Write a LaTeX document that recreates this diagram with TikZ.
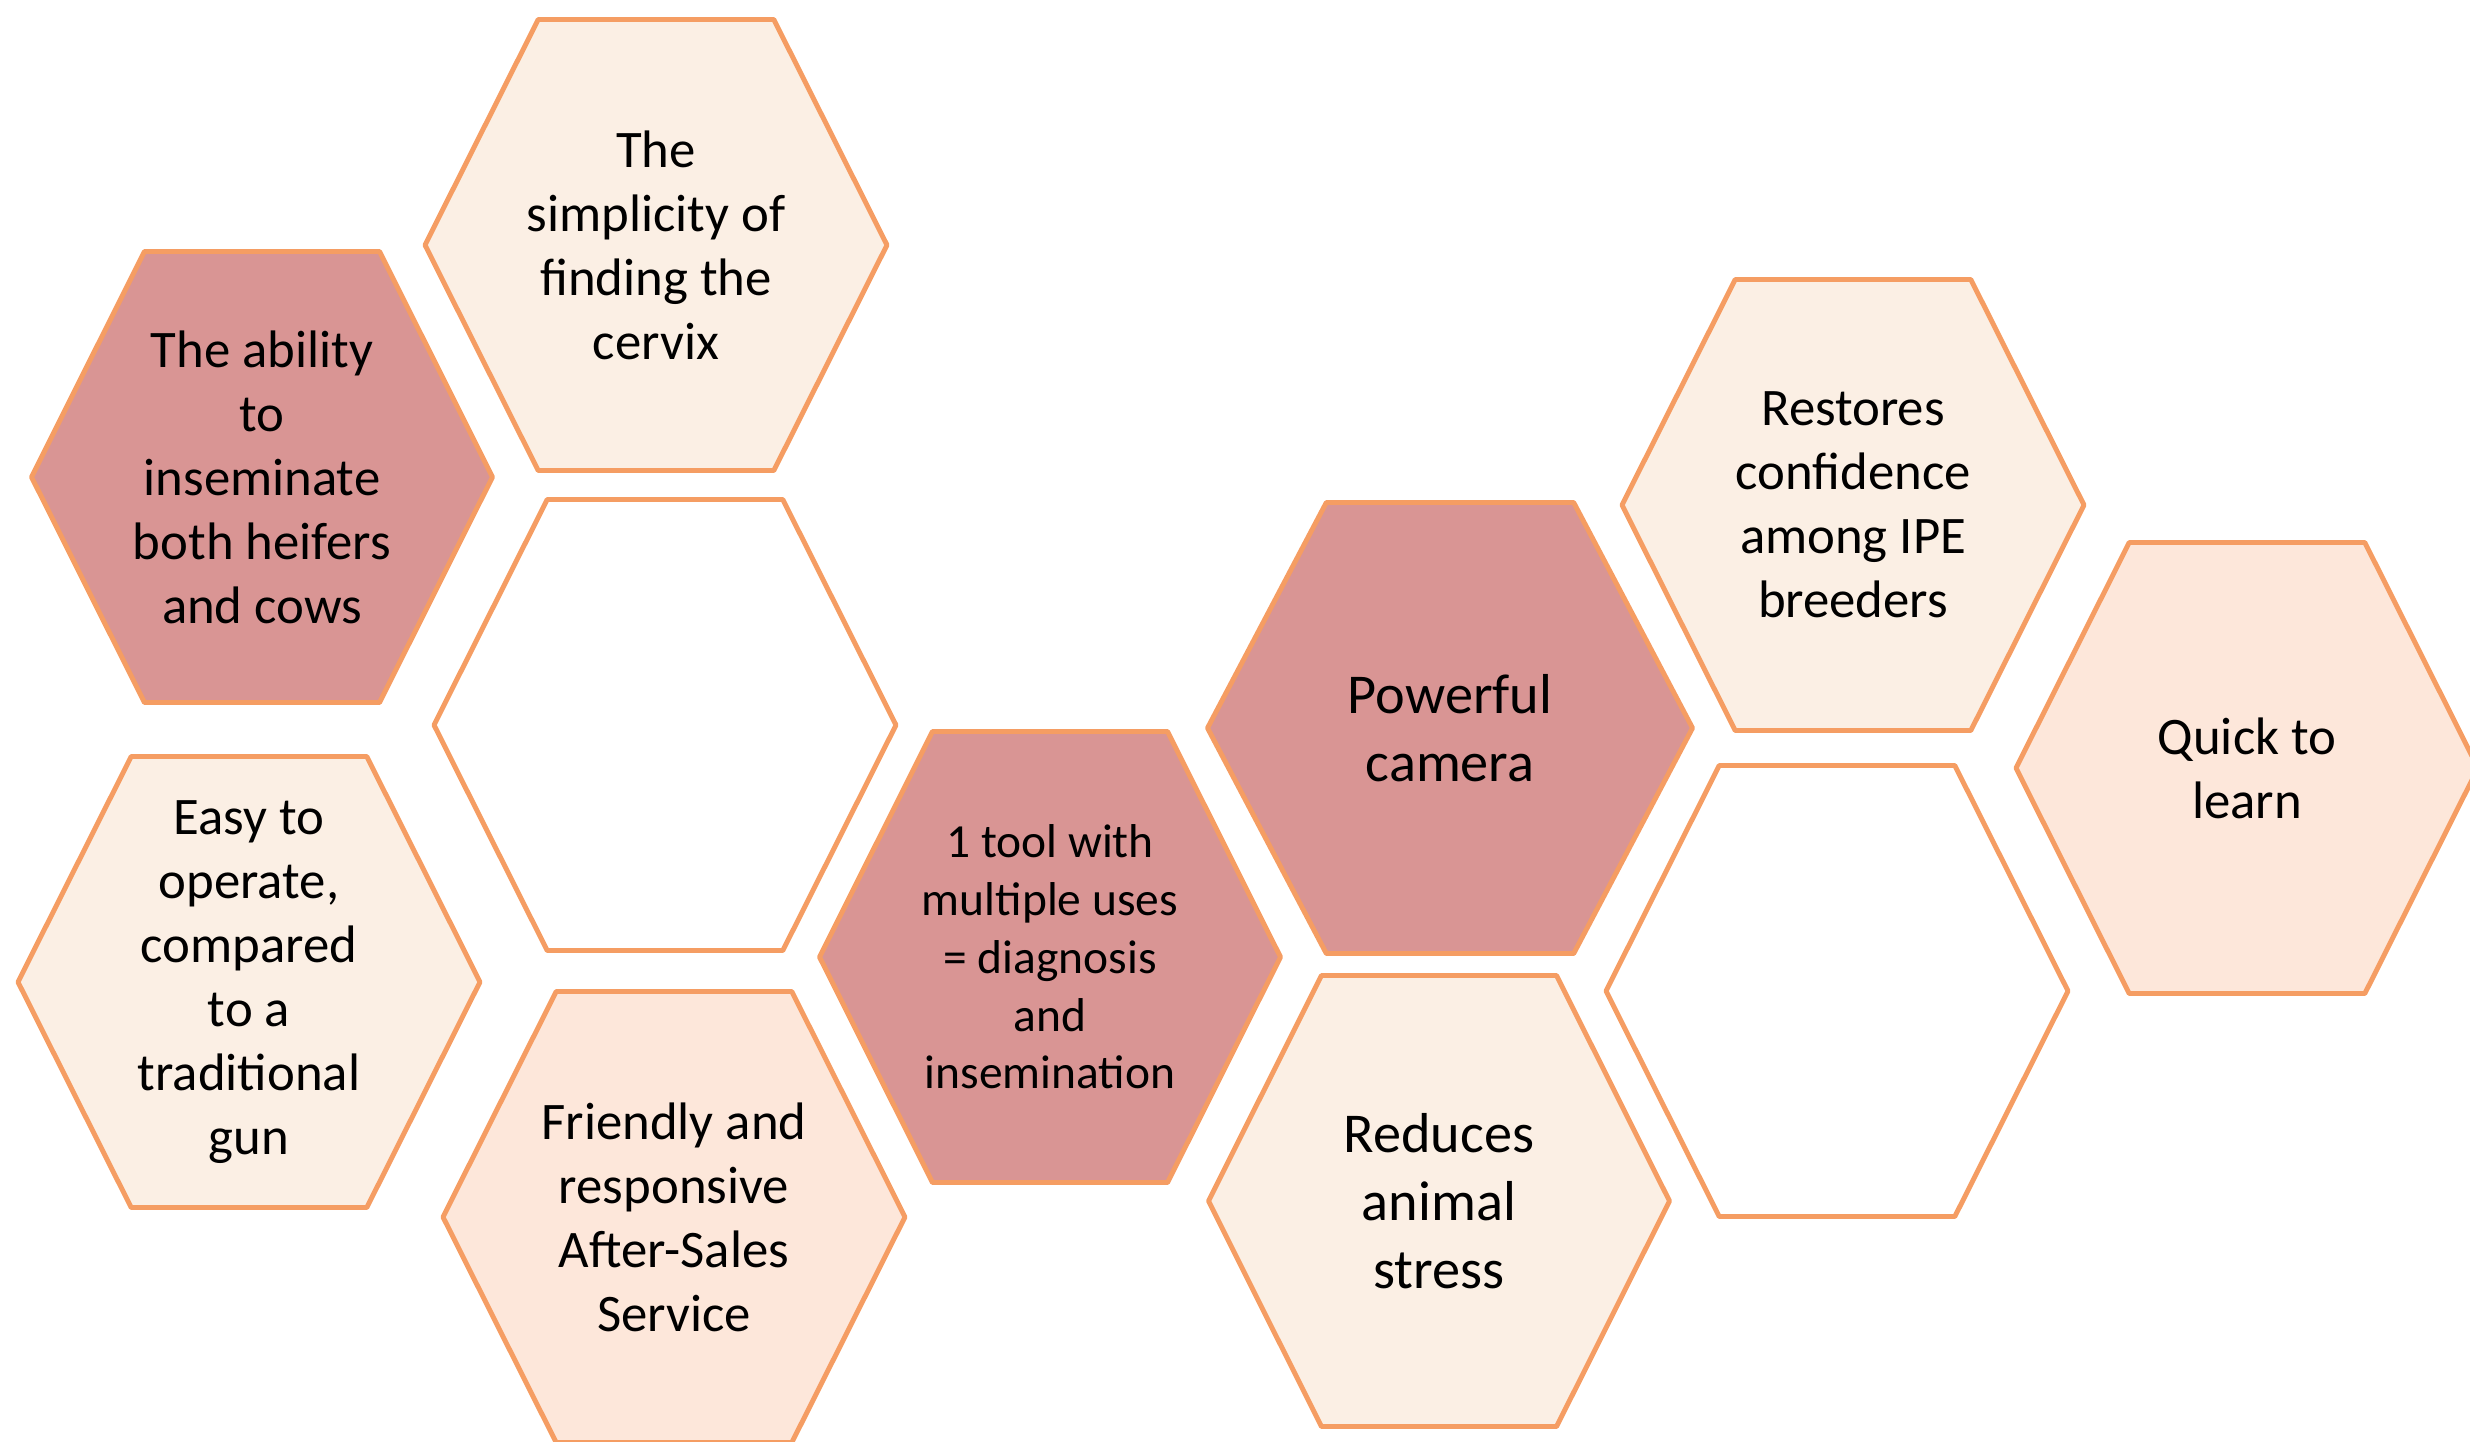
\documentclass[tikz,border=0pt]{standalone}
\usepackage{fontspec}
\setmainfont{Carlito}

\definecolor{hexline}{HTML}{F59D63}
\definecolor{hexdark}{HTML}{D99594}
\definecolor{hexlight}{HTML}{FBEFE4}
\definecolor{hexpeach}{HTML}{FDE7DA}

% name, x, y, half width, fill, text style, text
\newcommand{\hexcell}[7]{%
  \draw[cell, fill=#5] (#2-#4,#3) -- (#2-0.51*#4,#3-225.5) -- (#2+0.51*#4,#3-225.5)
    -- (#2+#4,#3) -- (#2+0.51*#4,#3+225.5) -- (#2-0.51*#4,#3+225.5) -- cycle;
  \node[#6] (#1) at (#2,#3) {#7};}

\begin{document}
\begin{tikzpicture}[
    x=0.01cm, y=-0.01cm,
    cell/.style={draw=hexline, line width=1.4pt, line join=round},
    celltext/.style={align=center, text=black, font=\fontsize{15}{18.2}\selectfont},
    smalltext/.style={celltext, font=\fontsize{13.5}{16.4}\selectfont},
    bigtext/.style={celltext, font=\fontsize{16}{19.3}\selectfont}
]
\useasboundingbox (0,0) rectangle (2470,1441);

% Left group
\hexcell{ability}{262}{477}{230.5}{hexdark}{celltext}{The ability\\to\\inseminate\\both heifers\\and cows}
\hexcell{simplicity}{656}{245}{231}{hexlight}{celltext}{The\\simplicity of\\finding the\\cervix}
\hexcell{blankleft}{665}{725}{231}{white}{celltext}{}
\hexcell{easy}{249}{982}{231}{hexlight}{celltext}{Easy to\\operate,\\compared\\to a\\traditional\\gun}
\hexcell{service}{674}{1217}{231}{hexpeach}{celltext}{Friendly and\\responsive\\After-Sales\\Service}

% Middle group
\hexcell{tool}{1050}{957}{230.5}{hexdark}{smalltext}{1 tool with\\multiple uses\\= diagnosis\\and\\insemination}
\hexcell{camera}{1450}{728}{242.5}{hexdark}{bigtext}{Powerful\\camera}
\hexcell{stress}{1439}{1201}{230.5}{hexlight}{bigtext}{Reduces\\animal\\stress}

% Right group
\hexcell{confidence}{1853}{505}{231}{hexlight}{celltext}{Restores\\confidence\\among IPE\\breeders}
\hexcell{blankright}{1837}{991}{231}{white}{celltext}{}
\hexcell{learn}{2247}{768}{231}{hexpeach}{celltext}{Quick to\\learn}

\end{tikzpicture}
\end{document}
